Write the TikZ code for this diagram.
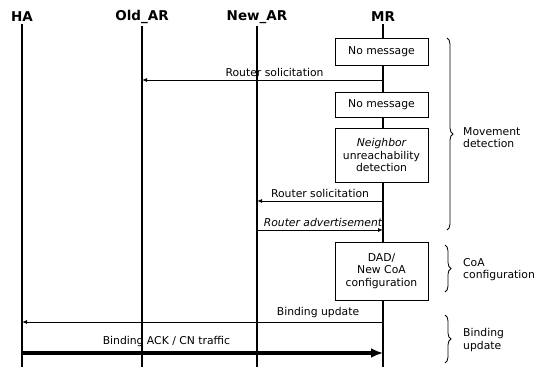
\documentclass[tikz,border=0pt]{standalone}
\usepackage{fontspec}
\setmainfont{DejaVu Sans}
\usetikzlibrary{arrows.meta,decorations.pathreplacing}

\begin{document}
\begin{tikzpicture}[
    x=1pt, y=-1pt,
    font=\fontsize{10.8}{12.2}\selectfont,
    actor/.style={font=\fontsize{13.5}{15}\selectfont\bfseries, inner sep=2pt},
    lifeline/.style={line width=1.2pt},
    msg/.style={-{Latex[length=5pt,width=4pt]}, line width=1pt},
    bigmsg/.style={-{Latex[length=12pt,width=10pt]}, line width=3.2pt},
    proc/.style={draw, fill=white, line width=1pt, minimum width=93pt,
      align=center, inner sep=1pt},
    phase/.style={decorate, decoration={brace, amplitude=6pt}, line width=0.8pt},
    phasetext/.style={align=left, anchor=west, inner sep=0pt}
  ]
  \useasboundingbox (0,0) rectangle (544,367);

  % actors and lifelines
  \foreach \name/\x/\txt in {ha/22/HA, old/142/Old\_AR, new/257/New\_AR, mr/383/MR} {
    \node [actor] (\name) at (\x, 17) {\txt};
    \coordinate (\name-end) at (\x, 367);
    \draw [lifeline] (\name) -- (\name-end);
  }

  % boxes on MR
  \node [proc, minimum height=27pt] (nomsg1) at (381.5, 51.5) {No message};
  \node [proc, minimum height=25pt] (nomsg2) at (381.5, 105) {No message};
  \node [proc, minimum height=54pt] (nud) at (381.5, 155)
    {\itshape Neighbor\\unreachability\\detection};
  \node [proc, minimum height=58pt] (dad) at (381.5, 271)
    {DAD/\\New CoA\\configuration};

  % message end points
  \coordinate (rs1-from) at (mr |- 0,80);
  \coordinate (rs1-to) at (old |- 0,80);
  \coordinate (rs2-from) at (mr |- 0,201);
  \coordinate (rs2-to) at (new |- 0,201);
  \coordinate (ra-from) at (new |- 0,230);
  \coordinate (ra-to) at (mr |- 0,230);
  \coordinate (bu-from) at (mr |- 0,322);
  \coordinate (bu-to) at (ha |- 0,322);
  \coordinate (ack-from) at (ha |- 0,353);
  \coordinate (ack-to) at (mr |- 0,353);

  % messages
  \draw [msg] (rs1-from) -- node [above, pos=0.45] {Router solicitation} (rs1-to);
  \draw [msg] (rs2-from) -- node [above] {Router solicitation} (rs2-to);
  \draw [msg] (ra-from) -- node [above, xshift=3pt] {\itshape Router advertisement} (ra-to);
  \draw [msg] (bu-from) -- node [above, pos=0.18] {Binding update} (bu-to);
  \draw [bigmsg] (ack-from) -- node [above, pos=0.4, yshift=1pt] {Binding ACK / CN traffic} (ack-to);

  % phases
  \draw [phase] (447, 38) -- (447, 230);
  \node [phasetext] (movement) at (463, 138) {Movement\\detection};
  \draw [phase] (445, 245) -- (445, 292);
  \node [phasetext] (coa) at (463, 270) {CoA\\configuration};
  \draw [phase] (445, 315) -- (445, 363);
  \node [phasetext] (binding) at (463, 340) {Binding\\update};
\end{tikzpicture}
\end{document}
